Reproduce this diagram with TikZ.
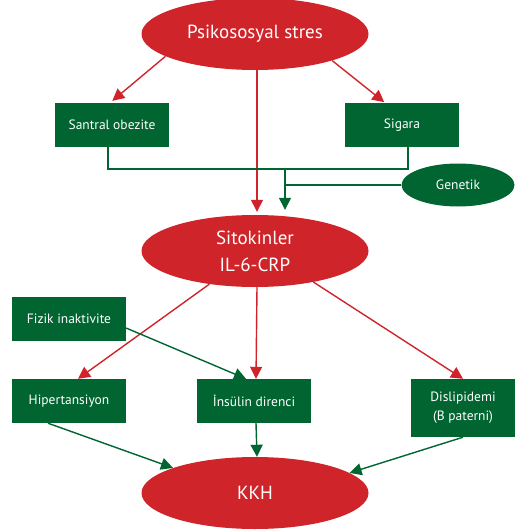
\documentclass[tikz,border=0pt]{standalone}
\usepackage{fontspec}
\setmainfont{PT Sans}
\usetikzlibrary{shapes.geometric,arrows.meta}
\definecolor{kirmizi}{RGB}{208,36,43}
\definecolor{yesil}{RGB}{0,101,48}

\begin{document}
\begin{tikzpicture}[x=1pt,y=-1pt,
    redell/.style={ellipse,fill=kirmizi,text=white,inner sep=0pt,minimum width=227pt,minimum height=72pt,font=\fontsize{19}{27}\selectfont,align=center},
    greenbox/.style={rectangle,fill=yesil,text=white,inner sep=0pt,minimum width=114pt,minimum height=44pt,font=\fontsize{13.5}{19}\selectfont,align=center},
    redarrow/.style={draw=kirmizi,line width=1.4pt,-{Triangle[length=12pt,width=12pt]}},
    greenarrow/.style={draw=yesil,line width=1.4pt,-{Triangle[length=12pt,width=12pt]}},
    greenline/.style={draw=yesil,line width=1.4pt}]
    \path[use as bounding box] (0,0) rectangle (515,532);
    \node[redell] (a) at (255,34) {Psikososyal stres};
    \node[greenbox] (b) at (112,125) {Santral obezite};
    \node[greenbox] (c) at (402,125) {Sigara};
    \node[ellipse,fill=yesil,text=white,inner sep=0pt,minimum width=113pt,minimum height=43pt,font=\fontsize{13.5}{17}\selectfont] (g) at (458,185) {Genetik};
    \node[redell] (e) at (255,251) {Sitokinler\\IL-6-CRP};
    \node[greenbox] (f) at (69,319) {Fizik inaktivite};
    \node[greenbox] (h) at (69,401) {Hipertansiyon};
    \node[greenbox] (i) at (254,401) {İnsülin direnci};
    \node[greenbox,minimum width=104pt,minimum height=58pt] (k) at (463,408) {Dislipidemi\\(B paterni)};
    \node[redell] (l) at (255,493) {KKH};
    \coordinate (j) at (285,169);
    \draw [redarrow,shorten >=3pt] (a.194) to ([xshift=-2pt]b.north);
    \draw [redarrow,shorten >=1pt] (a.341) to ([xshift=-17pt]c.north);
    \draw [redarrow,shorten >=3pt] ([xshift=2pt]a.south) to ([xshift=2pt]e.north);
    \draw [greenline] ([xshift=-4pt]b.south) |- (j);
    \draw [greenline] ([xshift=6pt]c.south) |- (j);
    \draw [greenline] (g.west) -- (j |- g.west);
    \draw [greenarrow,shorten >=5pt] (j) to (j |- e.north);
    \draw [redarrow] (e.216) to ([xshift=9pt]h.north);
    \draw [redarrow] ([xshift=2pt]e.south) to ([xshift=2pt]i.north);
    \draw [redarrow] (e.332) to (k.north);
    \draw [greenarrow] (f.-9) to ([xshift=-8pt]i.north);
    \draw [greenarrow] ([xshift=-21pt]h.south) to (l.163);
    \draw [greenarrow] ([xshift=2pt]i.south) to ([xshift=2pt]l.north);
    \draw [greenarrow] (k.south) to (l.12);
\end{tikzpicture}
\end{document}
